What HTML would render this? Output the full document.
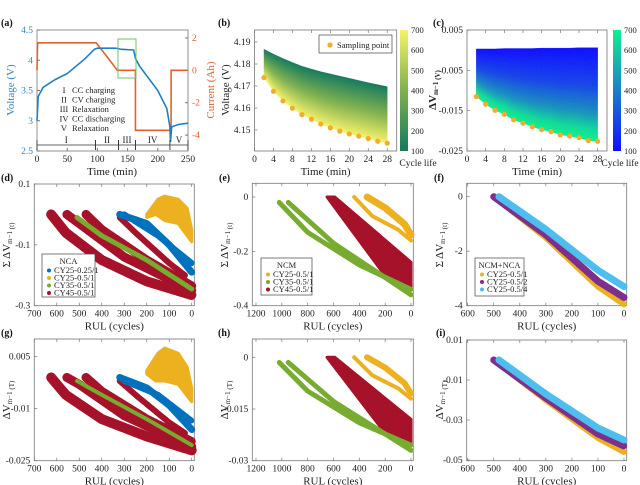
<!DOCTYPE html>
<html><head><meta charset="utf-8"><style>
body{margin:0;background:#fff}
svg{display:block;font-family:"Liberation Serif",serif}
</style></head><body>
<svg id="fig" width="640" height="485" viewBox="0 0 640 485" xmlns="http://www.w3.org/2000/svg">
<defs>
<linearGradient id="gbar" x1="0" y1="1" x2="0" y2="0"><stop offset="0" stop-color="#157a5e"/><stop offset="0.5" stop-color="#7fb04f"/><stop offset="1" stop-color="#f6f26a"/></linearGradient>
<linearGradient id="gcbar" x1="0" y1="1" x2="0" y2="0"><stop offset="0" stop-color="#1010ff"/><stop offset="0.5" stop-color="#1a80c8"/><stop offset="1" stop-color="#10f08a"/></linearGradient>
</defs>
</svg>
<script>
// ---- data ----
const aVoltT=[0,2,10,30,50,80,95,100,130,140,160,163,170,200,215,220,221,223,235,250];
const aVoltV=[3.0,3.4,3.55,3.68,3.78,4.03,4.18,4.2,4.2,4.18,4.17,4.03,3.9,3.5,3.2,2.9,2.65,2.9,2.94,2.96];
const aCurT=[0,1,98,125,133,163,163,222,222,250];
const aCurI=[0,1.7,1.7,0.4,0,0,-3.7,-3.7,0,0];
const aPhaseB=[0,97,135,163,220,250];
const aPhaseL=["I","II","III","IV","V"];
const aLegend=["I   CC charging","II  CV charging","III  Relaxation","IV  CC discharging","V   Relaxation"];
const sampT=[2,4,6,8,10,12,14,16,18,20,22,24,26,28];
const bSamp=[4.1738,4.1676,4.1632,4.1599,4.157,4.1549,4.1527,4.151,4.1495,4.1482,4.1472,4.1461,4.1449,4.144];
const bTop=[4.1867,4.1845,4.1825,4.1807,4.179,4.1777,4.1765,4.1755,4.1745,4.1735,4.1725,4.1715,4.1706,4.1697];
const cSamp=[-0.0115,-0.0134,-0.0149,-0.0159,-0.0173,-0.0181,-0.019,-0.0197,-0.0202,-0.021,-0.0213,-0.0217,-0.0224,-0.0226];
const cTop=[0.0003,0.0003,0.0003,0.0004,0.0004,0.0004,0.0004,0.0005,0.0005,0.0005,0.0005,0.0006,0.0006,0.0006];
const dRed1X=[625,560,400,200,0], dRed1Y=[0,-0.06,-0.15,-0.22,-0.265];
const dRed2X=[555,500,300,0], dRed2Y=[0,-0.03,-0.14,-0.25];
const dRed3X=[470,400,200,0], dRed3Y=[0,-0.05,-0.15,-0.235];
const dRed4X=[320,250,100,30], dRed4Y=[-0.01,-0.06,-0.16,-0.2];
const dGrnX=[510,400,200,0], dGrnY=[-0.01,-0.07,-0.15,-0.245];
const dBlu1X=[320,200,100,0], dBlu1Y=[0,-0.03,-0.1,-0.19];
const dBlu2X=[300,150,0], dBlu2Y=[0,-0.07,-0.16];
const dYelX=[200,150,120,60,20,0,0,60,120,160,200], dYelY=[0,0.05,0.06,0.05,0.02,-0.05,-0.09,-0.03,-0.02,0,-0.01];
const eGrn1X=[1020,800,400,0], eGrn1Y=[-0.02,-0.13,-0.25,-0.34];
const eGrn2X=[950,600,0], eGrn2Y=[-0.02,-0.17,-0.36];
const eRedX=[650,590,0,0,200,650], eRedY=[0,0,-0.24,-0.34,-0.29,0];
const eYel1X=[440,300,100,0], eYel1Y=[0,-0.07,-0.12,-0.16];
const eYel2X=[340,200,50,0], eYel2Y=[0,-0.04,-0.1,-0.14];
const fYelX=[500,300,100,0], fYelY=[0,-1.5,-3.3,-3.95];
const fPurX=[500,300,100,0], fPurY=[0,-1.4,-3.1,-3.7];
const fCyaX=[480,300,100,0], fCyaY=[0,-1.2,-2.7,-3.3];
const gRed1X=[625,560,400,200,0], gRed1Y=[-0.001,-0.006,-0.013,-0.018,-0.022];
const gRed2X=[555,500,300,0], gRed2Y=[-0.001,-0.003,-0.012,-0.021];
const gRed3X=[470,400,200,0], gRed3Y=[-0.001,-0.005,-0.013,-0.0195];
const gRed4X=[320,250,100,30], gRed4Y=[-0.002,-0.006,-0.014,-0.017];
const gGrnX=[510,400,200,0], gGrnY=[-0.002,-0.006,-0.013,-0.0205];
const gBlu1X=[320,200,100,0], gBlu1Y=[-0.001,-0.004,-0.009,-0.016];
const gBlu2X=[300,150,0], gBlu2Y=[-0.002,-0.006,-0.0135];
const gYelX=[200,150,120,60,20,0,0,60,120,160,200], gYelY=[0.001,0.006,0.0075,0.006,0.002,-0.004,-0.008,-0.003,-0.002,-0.002,0];
const hGrn1X=[1020,800,400,0], hGrn1Y=[-0.0015,-0.0098,-0.019,-0.0255];
const hGrn2X=[950,600,0], hGrn2Y=[-0.0015,-0.0128,-0.027];
const hRedX=[650,590,0,0,200,650], hRedY=[0,0,-0.018,-0.0255,-0.022,0];
const hYel1X=[440,300,100,0], hYel1Y=[0,-0.0052,-0.009,-0.012];
const hYel2X=[340,200,50,0], hYel2Y=[0,-0.003,-0.0075,-0.0105];
const iYelX=[500,300,100,0], iYelY=[0,-0.02,-0.039,-0.046];
const iPurX=[500,300,100,0], iPurY=[0,-0.019,-0.037,-0.043];
const iCyaX=[480,300,100,0], iCyaY=[0,-0.017,-0.034,-0.04];

const svg=document.getElementById('fig');
const NS='http://www.w3.org/2000/svg';
function mk(tag,at,parent){const e=document.createElementNS(NS,tag);for(const k in at)e.setAttribute(k,at[k]);(parent||svg).appendChild(e);return e;}
function txt(s,x,y,size,anchor,fill,rot){const t=mk('text',{x:x,y:y,'font-size':size,'text-anchor':anchor||'middle',fill:fill||'#222'});if(rot)t.setAttribute('transform','rotate(-90 '+x+' '+y+')');t.textContent=s;return t;}
function scale(d0,d1,p0,p1){return v=>p0+(v-d0)*(p1-p0)/(d1-d0);}
function lerpC(stops,f){for(let i=0;i<stops.length-1;i++){const a=stops[i],b=stops[i+1];if(f<=b[0]||i===stops.length-2){const u=Math.max(0,Math.min(1,(f-a[0])/(b[0]-a[0])));const c=[0,1,2].map(k=>Math.round(a[1][k]+(b[1][k]-a[1][k])*u));return 'rgb('+c.join(',')+')';}}}
function family(T,top,bot,sx,sy,stops,name){
  const g=mk('g',{});
  
  
  const N=40;
  for(let k=0;k<N;k++){
    const f0=k/N,f1=(k+1)/N;
    const up=T.map((t,i)=>sx(t)+','+sy(top[i]+(bot[i]-top[i])*f0));
    const dn=T.map((t,i)=>sx(t)+','+sy(top[i]+(bot[i]-top[i])*f1)).reverse();
    const c=lerpC(stops,(f0+f1)/2);
    mk('polygon',{points:up.concat(dn).join(' '),fill:c,stroke:c,'stroke-width':0.4},g);
  }
}
function axes(name,x0,x1,y0,y1,sx,sy,xt,yt,xlab,xfmt,yfmt){
  const g=mk('g',{});
  
  
  mk('rect',{x:x0,y:y0,width:x1-x0,height:y1-y0,fill:'none',stroke:'#777','stroke-width':0.8},g);
  xt.forEach(v=>{const X=sx(v);mk('line',{x1:X,x2:X,y1:y1,y2:y1-3,stroke:'#777','stroke-width':0.7},g);mk('line',{x1:X,x2:X,y1:y0,y2:y0+3,stroke:'#777','stroke-width':0.7},g);const t=txt(xfmt?xfmt(v):v,X,y1+11,9.5);g.appendChild(t);});
  yt.forEach(v=>{const Y=sy(v);mk('line',{x1:x0,x2:x0+3,y1:Y,y2:Y,stroke:'#777','stroke-width':0.7},g);const t=txt(yfmt?yfmt(v):v,x0-4,Y+3,9.5,'end');g.appendChild(t);});
  if(xlab){const t=txt(xlab,(x0+x1)/2,y1+24,11);}
  return g;
}
function band(X,Y,sx,sy,color,w,name){
  const p=mk('polyline',{points:X.map((v,i)=>sx(v)+','+sy(Y[i])).join(' '),fill:'none',stroke:color,'stroke-width':w,'stroke-linecap':'round','stroke-linejoin':'round','stroke-dasharray':'1.2 0.6'});
  
  
}
function cloud(X,Y,sx,sy,color,name){
  const p=mk('polygon',{points:X.map((v,i)=>sx(v)+','+sy(Y[i])).join(' '),fill:color,stroke:color,'stroke-width':3,'stroke-linejoin':'round'});
  
  
}
function legend(name,x,y,w,h,title,items){
  const g=mk('g',{});
  
  
  mk('rect',{x:x,y:y,width:w,height:h,fill:'#fff',stroke:'#444','stroke-width':0.7},g);
  g.appendChild(txt(title,x+w/2,y+10,8.5));
  items.forEach((it,i)=>{const yy=y+19+i*7.5;mk('circle',{cx:x+7,cy:yy-2.5,r:2,fill:it[1]},g);g.appendChild(txt(it[0],x+12,yy,8.5,'start'));});
}
function letter(s,x,y){const t=txt(s,x,y,10,'start','#111');t.setAttribute('font-weight','bold');}
function ylab(parts,x,y){const t=mk('text',{x:x,y:y,'font-size':11,'text-anchor':'middle',fill:'#222',transform:'rotate(-90 '+x+' '+y+')'});parts.forEach(p=>{const s=mk('tspan',p[1]?{'font-size':7,dy:2}:{dy:p[2]||0},t);s.textContent=p[0];});return t;}
const RED='#a5122a',GRN='#77ac30',BLU='#0072bd',YEL='#edb120',PUR='#7e2f8e',CYA='#4dbeee';

// ---- (a) ----
letter('(a)',1,26);
{const sx=scale(0,250,37,188),sy=scale(2.5,4.5,151,30),sy2=scale(-4.98,2.49,151,30);
 mk('rect',{x:37,y:30,width:151,height:121,fill:'none',stroke:'#777','stroke-width':0.8});
 [0,50,100,150,200,250].forEach(v=>{mk('line',{x1:sx(v),x2:sx(v),y1:151,y2:148,stroke:'#777'});txt(v,sx(v),162,9.5);});
 [2.5,3,3.5,4,4.5].forEach(v=>{mk('line',{x1:37,x2:40,y1:sy(v),y2:sy(v),stroke:'#777'});txt(v,33,sy(v)+3,9.5,'end','#2e86c8');});
 [2,0,-2,-4].forEach(v=>{mk('line',{x1:185,x2:188,y1:sy2(v),y2:sy2(v),stroke:'#777'});txt(v,192,sy2(v)+3,9.5,'start','#e0622a');});
 const tx=txt('Time (min)',112,175,11);
 const yl=txt('Voltage (V)',14,90,11,'middle','#2e86c8',true);
 const yr=txt('Current (Ah)',214,90,11,'middle','#e0622a',true);
 const cl=mk('polyline',{points:aCurT.map((t,i)=>sx(t)+','+sy2(aCurI[i])).join(' '),fill:'none',stroke:'#e0622a','stroke-width':1.6});
 
 const vl=mk('polyline',{points:aVoltT.map((t,i)=>sx(t)+','+sy(aVoltV[i])).join(' '),fill:'none',stroke:'#1f7fc4','stroke-width':1.6});
 
 const gb=mk('rect',{x:118,y:39,width:18,height:39,fill:'none',stroke:'#6cc36c','stroke-width':1});
 
 for(let i=0;i<5;i++){const a=sx(aPhaseB[i]),b=sx(aPhaseB[i+1]);mk('line',{x1:a,x2:b,y1:145,y2:145,stroke:'#999','stroke-width':1.5});mk('line',{x1:a,x2:a,y1:140,y2:150,stroke:'#222','stroke-width':0.7});mk('line',{x1:b,x2:b,y1:140,y2:150,stroke:'#222','stroke-width':0.7});txt(aPhaseL[i],(a+b)/2,143,9);}
 aLegend.forEach((s,i)=>{const p=s.split(/\s+/);txt(p[0],64,93+i*9.5,8.5);txt(p.slice(1).join(' '),72,93+i*9.5,8.5,'start');});
}
// ---- (b) ----
letter('(b)',218,26);
{const sx=scale(0,30,254.5,396.7),sy=scale(4.15,4.19,130,42);
 axes('panel-b',254.5,396.7,30,151,sx,sy,[0,4,8,12,16,20,24,28],[4.15,4.16,4.17,4.18,4.19],'Time (min)',null,v=>v.toFixed(2));
 family(sampT,bTop,bSamp,sx,sy,[[0,[21,122,94]],[0.5,[127,176,79]],[1,[246,242,106]]],'voltage-curve-family');
 sampT.forEach((t,i)=>{const c=mk('circle',{cx:sx(t),cy:sy(bSamp[i]),r:2.6,fill:'#f2ac2e'});});
 const l=mk('g',{});
 mk('rect',{x:319,y:35,width:73,height:18,fill:'#fff',stroke:'#444','stroke-width':0.7},l);mk('circle',{cx:330,cy:45,r:2.6,fill:'#f2ac2e'},l);l.appendChild(txt('Sampling point',337,48,8.5,'start'));
 const cb=mk('rect',{x:400,y:30,width:8,height:121,fill:'url(#gbar)'});
 [100,200,300,400,500,600,700].forEach(v=>txt(v,411,151-(v-100)/600*121+3,8.5,'start'));
 txt('Cycle life',418,166,9.5);
 ylab([['Voltage (V)',0]],229,90);
}
// ---- (c) ----
letter('(c)',433,26);
{const sx=scale(0,30,467,607),sy=scale(-0.025,0.005,151,30);
 axes('panel-c',467,607,30,151,sx,sy,[0,4,8,12,16,20,24,28],[-0.025,-0.015,-0.005,0.005],'Time (min)',null,v=>v.toFixed(3));
 family(sampT,cTop,cSamp,sx,sy,[[0,[16,16,255]],[0.4,[24,70,232]],[0.7,[26,144,192]],[0.88,[18,216,154]],[1,[16,240,138]]],'delta-v-curve-family');
 sampT.forEach((t,i)=>{const c=mk('circle',{cx:sx(t),cy:sy(cSamp[i]),r:2.6,fill:'#f2ac2e'});});
 const cb=mk('rect',{x:613,y:30,width:8,height:121,fill:'url(#gcbar)'});
 [100,200,300,400,500,600,700].forEach(v=>txt(v,624,151-(v-100)/600*121+3,8.5,'start'));
 txt('Cycle life',620,166,9.5);
 const t=ylab([['ΔV',0],['m−1',1],['  (V)',-2]],436,90);t.setAttribute('font-weight','bold');
}
// ---- (d) ----
letter('(d)',1,181);
{const sx=scale(700,0,34.3,191.7),sy=scale(-0.3,0.1,305.7,184);
 axes('panel-d',34.3,194.3,184,305.7,sx,sy,[700,600,500,400,300,200,100,0],[-0.3,-0.1,0.1],'RUL (cycles)');
 band(dRed1X,dRed1Y,sx,sy,RED,10,'cy45-band-1');band(dRed2X,dRed2Y,sx,sy,RED,9,'cy45-band-2');band(dRed3X,dRed3Y,sx,sy,RED,9,'cy45-band-3');band(dRed4X,dRed4Y,sx,sy,RED,6,'cy45-band-4');
 band(dGrnX,dGrnY,sx,sy,GRN,5,'cy35-band');band(dBlu1X,dBlu1Y,sx,sy,BLU,7,'cy25-025-band-1');band(dBlu2X,dBlu2Y,sx,sy,BLU,6,'cy25-025-band-2');
 cloud(dYelX,dYelY,sx,sy,YEL,'cy25-05-cloud');
 legend('legend-d',42,254,53,43,'NCA',[['CY25-0.25/1',BLU],['CY25-0.5/1',YEL],['CY35-0.5/1',GRN],['CY45-0.5/1',RED]]);
 ylab([['Σ ΔV',0],['m−1',1],[' (t)',-2]],10,245);
}
// ---- (e) ----
letter('(e)',219,181);
{const sx=scale(1200,0,256,411),sy=scale(-0.4,0,305.7,197);
 axes('panel-e',252.3,413.3,183.3,305.7,sx,sy,[1200,1000,800,600,400,200,0],[-0.4,-0.2,0],'RUL (cycles)');
 cloud(eRedX,eRedY,sx,sy,RED,'cy45-band');
 band(eGrn1X,eGrn1Y,sx,sy,GRN,5,'cy35-band-1');band(eGrn2X,eGrn2Y,sx,sy,GRN,5,'cy35-band-2');
 band(eYel1X,eYel1Y,sx,sy,YEL,4,'cy25-band-1');band(eYel2X,eYel2Y,sx,sy,YEL,7,'cy25-band-2');
 legend('legend-e',261,258,51,37,'NCM',[['CY25-0.5/1',YEL],['CY35-0.5/1',GRN],['CY45-0.5/1',RED]]);
 ylab([['Σ ΔV',0],['m−1',1],[' (t)',-2]],228,245);
}
// ---- (f) ----
letter('(f)',434,181);
{const sx=scale(600,0,467.7,624),sy=scale(-4,0,305.7,196.7);
 axes('panel-f',466.7,626.7,183.3,305.7,sx,sy,[600,500,400,300,200,100,0],[-4,-2,0],'RUL (cycles)');
 band(fYelX,fYelY,sx,sy,YEL,6,'cy25-05-1-band');band(fPurX,fPurY,sx,sy,PUR,7,'cy25-05-2-band');band(fCyaX,fCyaY,sx,sy,CYA,7,'cy25-05-4-band');
 legend('legend-f',475,258,49,38,'NCM+NCA',[['CY25-0.5/1',YEL],['CY25-0.5/2',PUR],['CY25-0.5/4',CYA]]);
 ylab([['Σ ΔV',0],['m−1',1],[' (t)',-2]],443,245);
}
// ---- (g) ----
letter('(g)',1,336);
{const sx=scale(700,0,34.3,191.7),sy=scale(-0.025,0.005,460.7,356.7);
 axes('panel-g',34.3,194.3,339,460.7,sx,sy,[700,600,500,400,300,200,100,0],[-0.025,-0.01,0.005],'RUL (cycles)');
 band(gRed1X,gRed1Y,sx,sy,RED,10,'cy45-band-1');band(gRed2X,gRed2Y,sx,sy,RED,9,'cy45-band-2');band(gRed3X,gRed3Y,sx,sy,RED,9,'cy45-band-3');band(gRed4X,gRed4Y,sx,sy,RED,6,'cy45-band-4');
 band(gGrnX,gGrnY,sx,sy,GRN,4,'cy35-band');band(gBlu1X,gBlu1Y,sx,sy,BLU,7,'cy25-025-band-1');band(gBlu2X,gBlu2Y,sx,sy,BLU,6,'cy25-025-band-2');
 cloud(gYelX,gYelY,sx,sy,YEL,'cy25-05-cloud');
 ylab([['ΔV',0],['m−1',1],[' (T)',-2]],10,400);
}
// ---- (h) ----
letter('(h)',218,336);
{const sx=scale(1200,0,256,411),sy=scale(-0.03,0,460.7,357.3);
 axes('panel-h',252.3,413.3,339,460.7,sx,sy,[1200,1000,800,600,400,200,0],[-0.03,-0.015,0],'RUL (cycles)');
 cloud(hRedX,hRedY,sx,sy,RED,'cy45-band');
 band(hGrn1X,hGrn1Y,sx,sy,GRN,5,'cy35-band-1');band(hGrn2X,hGrn2Y,sx,sy,GRN,5,'cy35-band-2');
 band(hYel1X,hYel1Y,sx,sy,YEL,4,'cy25-band-1');band(hYel2X,hYel2Y,sx,sy,YEL,6,'cy25-band-2');
 ylab([['ΔV',0],['m−1',1],[' (T)',-2]],228,400);
}
// ---- (i) ----
letter('(i)',436,336);
{const sx=scale(600,0,467.7,624),sy=scale(-0.05,0.01,460,340);
 axes('panel-i',466.7,626.7,340,460.7,sx,sy,[600,500,400,300,200,100,0],[-0.05,-0.03,-0.01,0.01],'RUL (cycles)');
 band(iYelX,iYelY,sx,sy,YEL,6,'cy25-05-1-band');band(iPurX,iPurY,sx,sy,PUR,7,'cy25-05-2-band');band(iCyaX,iCyaY,sx,sy,CYA,7,'cy25-05-4-band');
 ylab([['ΔV',0],['m−1',1],[' (T)',-2]],443,400);
}
</script>
</body></html>
